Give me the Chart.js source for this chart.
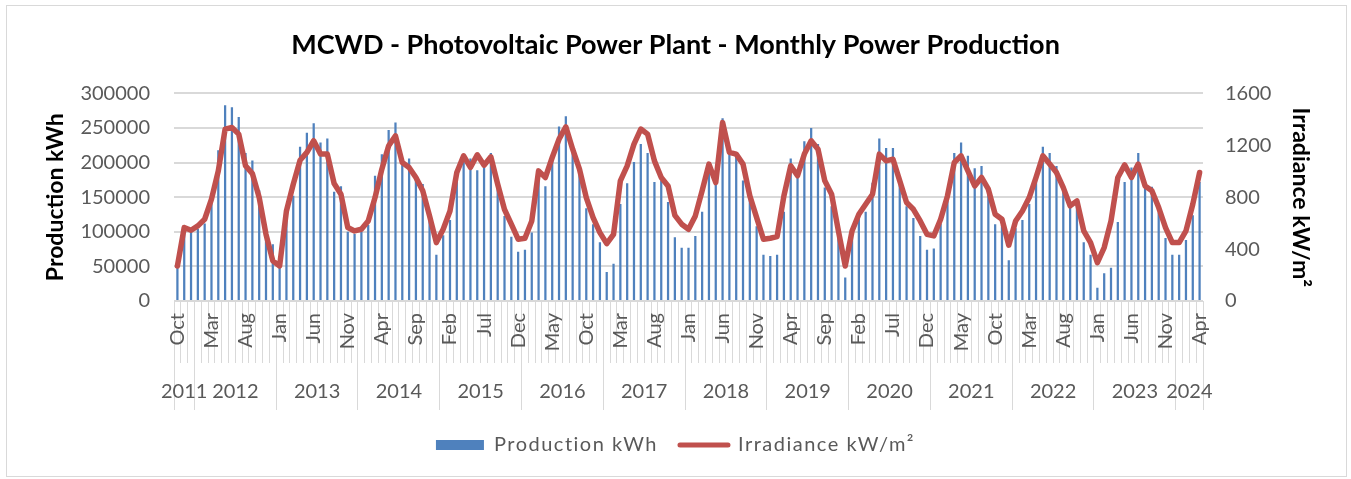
<!DOCTYPE html>
<html>
<head>
<meta charset="utf-8">
<script src="https://cdn.jsdelivr.net/npm/chart.js@4.4.1/dist/chart.umd.min.js"></script>
<style>
html,body{margin:0;padding:0;background:#fff;}
#wrap{width:1351px;height:479px;position:relative;}
</style>
</head>
<body>
<div id="wrap"><canvas id="c" width="1351" height="479"></canvas></div>
<script>
// ---- categories (months, Oct 2011 .. Apr 2024) ----
const categories = [
  'Oct','Nov','Dec',
  'Jan','Feb','Mar','Apr','May','Jun','Jul','Aug','Sep','Oct','Nov','Dec',
  'Jan','Feb','Mar','Apr','May','Jun','Jul','Aug','Sep','Oct','Nov','Dec',
  'Jan','Feb','Mar','Apr','May','Jun','Jul','Aug','Sep','Oct','Nov','Dec',
  'Jan','Feb','Mar','Apr','May','Jun','Jul','Aug','Sep','Oct','Nov','Dec',
  'Jan','Feb','Mar','Apr','May','Jun','Jul','Aug','Sep','Oct','Nov','Dec',
  'Jan','Feb','Mar','Apr','May','Jun','Jul','Aug','Sep','Oct','Nov','Dec',
  'Jan','Feb','Mar','Apr','May','Jun','Jul','Aug','Sep','Oct','Nov','Dec',
  'Jan','Feb','Mar','Apr','May','Jun','Jul','Aug','Sep','Oct','Nov','Dec',
  'Jan','Feb','Mar','Apr','May','Jun','Jul','Aug','Sep','Oct','Nov','Dec',
  'Jan','Feb','Mar','Apr','May','Jun','Jul','Aug','Sep','Oct','Nov','Dec',
  'Jan','Feb','Mar','Apr','May','Jun','Jul','Aug','Sep','Oct','Nov','Dec',
  'Jan','Feb','Mar','Apr','May','Jun','Jul','Aug','Sep','Oct','Nov','Dec',
  'Jan','Feb','Mar','Apr'
];
const yearLabels = ['2011','2012','2013','2014','2015','2016','2017','2018','2019','2020','2021','2022','2023','2024'];
const yearMonthCounts = [3,12,12,12,12,12,12,12,12,12,12,12,12,4];
const monthLabelStep = 5;

// ---- series ----
const production = [
  48000,104000,100000,
  104000,112000,150000,218000,283000,280000,266000,214000,203000,160000,95000,82000,
  55000,122000,152000,223000,243000,257000,229000,235000,158000,166000,100000,97000,
  100000,110000,181000,212000,247000,258000,200000,206000,178000,169000,118000,67000,
  95000,117000,180000,208000,206000,189000,198000,214000,165000,123000,93000,71000,
  74000,99000,180000,166000,205000,252000,267000,215000,185000,134000,111000,85000,
  42000,54000,140000,170000,201000,227000,214000,172000,174000,143000,92000,77000,
  77000,94000,129000,186000,169000,264000,214000,212000,174000,150000,108000,67000,
  65000,67000,129000,206000,186000,231000,250000,227000,164000,137000,95000,34000,
  95000,123000,129000,171000,235000,221000,221000,170000,137000,120000,94000,74000,
  76000,112000,145000,214000,229000,210000,192000,195000,160000,111000,110000,59000,
  105000,117000,140000,178000,223000,214000,195000,160000,135000,140000,85000,67000,
  19000,40000,48000,114000,172000,193000,214000,165000,165000,128000,91000,67000,
  67000,88000,124000,172000
];
const irradiance = [
  270,566,545,
  579,630,785,1003,1325,1337,1286,1042,982,797,514,309,
  270,694,900,1085,1145,1235,1132,1132,905,823,566,540,
  553,617,797,1016,1196,1273,1067,1029,952,849,656,450,
  553,694,990,1119,1029,1127,1047,1111,900,705,592,476,
  484,617,1003,952,1106,1247,1342,1170,1016,797,643,527,
  442,514,926,1042,1209,1325,1286,1080,952,887,660,592,
  553,656,849,1055,913,1376,1145,1132,1055,810,643,476,
  484,496,810,1042,965,1132,1235,1170,926,823,540,270,
  540,669,746,823,1132,1080,1093,926,759,707,617,514,
  502,630,810,1067,1119,1003,887,952,862,669,630,430,
  617,694,797,952,1119,1055,990,874,733,772,540,450,
  296,412,617,952,1049,952,1055,887,849,720,566,450,
  450,540,746,990
];
const productionTicks = {min:0, max:300000, step:50000};
const irradianceTicks = {min:0, max:1600, step:200};

// ---- year group ticks (boundaries + centres) ----
const yearBounds = [-0.5];
const yearCenters = new Map();
(function(){
  let start = 0;
  yearLabels.forEach((y, k) => {
    const n = yearMonthCounts[k];
    yearCenters.set(start + (n - 1) / 2, y);
    start += n;
    yearBounds.push(start - 0.5);
  });
})();
const yearBoundSet = new Set(yearBounds);
const yearTickValues = yearBounds.concat(Array.from(yearCenters.keys())).sort((a,b)=>a-b);

const GRID = '#d9d9d9';
const TXT = '#595959';
const FONT = 'Lato';

const borderPlugin = {
  id: 'chartBorder',
  beforeDraw(chart) {
    const c = chart.ctx;
    c.save();
    c.fillStyle = '#fff';
    c.fillRect(0, 0, chart.width, chart.height);
    c.strokeStyle = GRID;
    c.lineWidth = 1;
    c.strokeRect(6.5, 5.5, 1340, 471);
    c.restore();
  }
};

const legendSpacingPlugin = {
  id: 'legendSpacing',
  afterInit(chart) {
    const lg = chart.legend;
    if (!lg) return;
    const wrap = (fn) => function(...args) {
      const ctx = this.ctx;
      const prev = ctx.letterSpacing;
      try { ctx.letterSpacing = '1.5px'; } catch(e) {}
      try { return fn.apply(this, args); }
      finally { try { ctx.letterSpacing = prev || '0px'; } catch(e) {} }
    };
    lg.fit = wrap(lg.fit);
    lg.draw = wrap(lg.draw);
  }
};

const plainNumber = (v) => String(v);

new Chart(document.getElementById('c'), {
  data: {
    labels: categories,
    datasets: [
      {
        type: 'bar', label: 'Production kWh', data: production,
        backgroundColor: '#4F81BD', borderWidth: 0,
        barPercentage: 0.33, categoryPercentage: 1,
        xAxisID: 'x', yAxisID: 'y', order: 2
      },
      {
        type: 'line', label: 'Irradiance kW/m²', data: irradiance,
        borderColor: '#C0504D', backgroundColor: '#C0504D', borderWidth: 5.5,
        pointRadius: 0, pointHoverRadius: 0, tension: 0, fill: false,
        borderJoinStyle: 'round', borderCapStyle: 'round',
        xAxisID: 'x', yAxisID: 'y1', order: 1
      }
    ]
  },
  options: {
    responsive: false, animation: false, devicePixelRatio: 1,
    layout: { padding: { top: 0, left: 0, right: 0, bottom: 14 } },
    plugins: {
      title: {
        display: true,
        text: 'MCWD - Photovoltaic Power Plant - Monthly Power Production',
        font: { family: FONT, size: 27, weight: 'bold' }, color: '#000',
        padding: { top: 29, bottom: 32 }
      },
      legend: {
        position: 'bottom',
        labels: {
          usePointStyle: true, pointStyleWidth: 48, boxHeight: 10, padding: 22,
          font: { family: FONT, size: 20 }, color: TXT,
          generateLabels(chart) {
            const ds = chart.data.datasets;
            return [
              { text: ds[0].label, fillStyle: ds[0].backgroundColor, strokeStyle: ds[0].backgroundColor,
                lineWidth: 0, pointStyle: 'rect', hidden: false, datasetIndex: 0, fontColor: TXT },
              { text: ds[1].label, fillStyle: ds[1].borderColor, strokeStyle: ds[1].borderColor,
                lineWidth: 5, lineCap: 'round', pointStyle: 'line', hidden: false, datasetIndex: 1, fontColor: TXT }
            ];
          }
        }
      },
      tooltip: { enabled: false }
    },
    scales: {
      x: {
        type: 'category', position: 'bottom', offset: true, weight: 0,
        grid: { offset: true, drawOnChartArea: false, drawTicks: true, tickLength: 62, color: GRID, lineWidth: 1 },
        border: { display: true, color: GRID, width: 1 },
        ticks: {
          autoSkip: false, maxRotation: 90, minRotation: 90, padding: -50,
          font: { family: FONT, size: 20 }, color: TXT,
          callback(v, i) { return i % monthLabelStep === 0 ? categories[i] : ''; }
        },
        afterFit(s) { s.height = 62; }
      },
      xYear: {
        type: 'linear', position: 'bottom', min: -0.5, max: categories.length - 0.5, weight: 1,
        grid: {
          drawOnChartArea: false, drawTicks: true, tickLength: 47, lineWidth: 1,
          color: (c) => (c.tick && yearBoundSet.has(c.tick.value)) ? GRID : 'rgba(0,0,0,0)'
        },
        border: { display: false },
        ticks: {
          autoSkip: false, maxRotation: 0, minRotation: 0, padding: -30,
          font: { family: FONT, size: 20 }, color: TXT,
          callback: (v) => yearCenters.get(v) || ''
        },
        afterBuildTicks(s) { s.ticks = yearTickValues.map(v => ({ value: v })); },
        afterFit(s) { s.height = 50; }
      },
      y: {
        position: 'left', min: productionTicks.min, max: productionTicks.max,
        ticks: { stepSize: productionTicks.step, padding: 24, font: { family: FONT, size: 20 }, color: TXT, callback: plainNumber },
        grid: { color: GRID, lineWidth: 2, drawTicks: false },
        border: { display: false },
        title: { display: true, text: 'Production kWh', font: { family: FONT, size: 23, weight: 'bold' }, color: '#000', padding: { top: 42, bottom: 0 } },
        afterFit(s) { s.width = 174; }
      },
      y1: {
        position: 'right', min: irradianceTicks.min, max: irradianceTicks.max,
        ticks: { stepSize: irradianceTicks.step, padding: 22, font: { family: FONT, size: 20 }, color: TXT, callback: plainNumber },
        grid: { drawOnChartArea: false, drawTicks: false },
        border: { display: false },
        title: { display: true, text: 'Irradiance kW/m²', font: { family: FONT, size: 23, weight: 'bold' }, color: '#000', padding: { top: 37, bottom: 0 } },
        afterFit(s) { s.width = 148; }
      }
    }
  },
  plugins: [borderPlugin, legendSpacingPlugin]
});
</script>
</body>
</html>
